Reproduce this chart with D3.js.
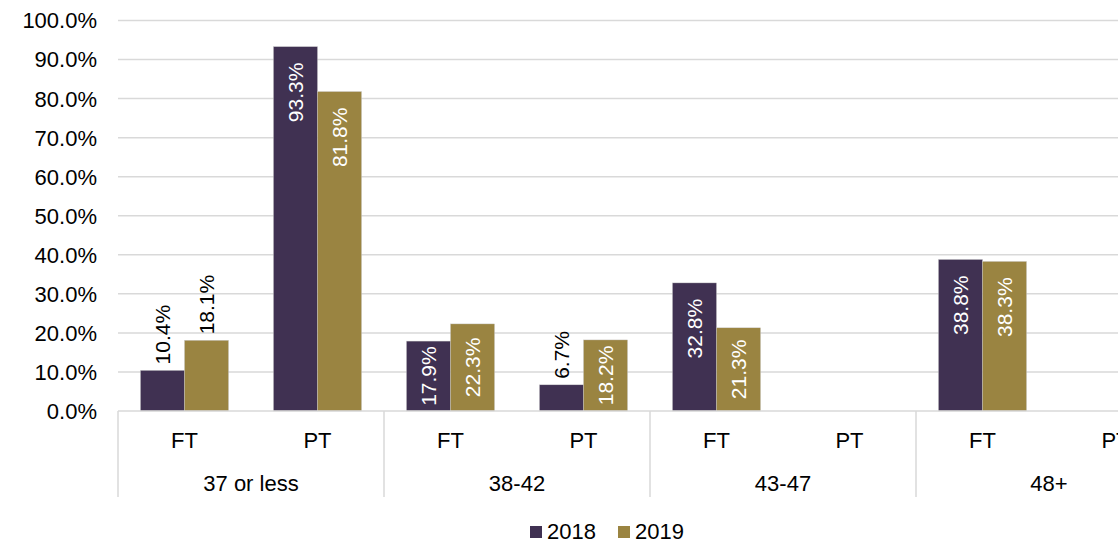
<!DOCTYPE html>
<html>
<head>
<meta charset="utf-8" />
<script src="https://cdn.jsdelivr.net/npm/d3@7"></script>
<style>
    body {
        margin: 0;
        background: #fff;
        overflow: hidden;
    }
    svg {
        display: block;
        font-family: "Liberation Sans", Arial, sans-serif;
    }
</style>
</head>
<body>
<div id="chartRoot"></div>
<script>
    const groups = ["37 or less", "38-42", "43-47", "48+"];
    const types = ["FT", "PT"];
    const seriesNames = ["2018", "2019"];
    // values per group/type, in %; null = no bar
    const values2018 = [10.4, 93.3, 17.9, 6.7, 32.8, null, 38.8, null];
    const values2019 = [18.1, 81.8, 22.3, 18.2, 21.3, null, 38.3, null];
    const yTicks = [0, 10, 20, 30, 40, 50, 60, 70, 80, 90, 100];
    // labels drawn above the bar instead of inside (series index, slot index)
    const outsideLabels = [[0, 0], [1, 0], [0, 3]];

    const colors = ["#403152", "#9a8441"];

    function drawChart() {
        const W = 1118, H = 542;
        const left = 118, top = 20.5, bottom = 411;
        const slotW = 133;
        const right = left + slotW * groups.length * types.length;

        const svg = d3.select("#chartRoot")
            .append("svg")
            .attr("width", W)
            .attr("height", H);

        const slots = [];
        groups.forEach(g => types.forEach(t => slots.push(g + "|" + t)));

        const x0 = d3.scaleBand().domain(slots).range([left, right]);
        const x1 = d3.scaleBand().domain(seriesNames)
            .range([0, x0.bandwidth()])
            .paddingInner(0)
            .paddingOuter(0.51);
        const y = d3.scaleLinear().domain([0, 100]).range([bottom, top]);

        // gridlines
        svg.append("g")
            .selectAll("line")
            .data(yTicks.filter(d => d > 0))
            .join("line")
            .attr("x1", left).attr("x2", right)
            .attr("y1", d => y(d)).attr("y2", d => y(d))
            .attr("stroke", "#d9d9d9")
            .attr("stroke-width", 1.5);

        // y labels
        svg.append("g")
            .selectAll("text")
            .data(yTicks)
            .join("text")
            .attr("x", 97)
            .attr("y", d => y(d))
            .attr("dy", "0.36em")
            .attr("text-anchor", "end")
            .attr("font-size", 22)
            .attr("fill", "#000")
            .text(d => d.toFixed(1) + "%");

        // bars
        const series = [values2018, values2019];
        const barData = [];
        series.forEach((vals, si) => {
            vals.forEach((v, i) => {
                if (v == null) return;
                barData.push({ si, i, v, slot: slots[i], name: seriesNames[si] });
            });
        });

        svg.append("g")
            .selectAll("rect")
            .data(barData)
            .join("rect")
            .attr("x", d => x0(d.slot) + x1(d.name))
            .attr("y", d => y(d.v))
            .attr("width", x1.bandwidth())
            .attr("height", d => y(0) - y(d.v))
            .attr("fill", d => colors[d.si])
            .attr("stroke", "#c8c8c8")
            .attr("stroke-width", 0.4);

        // category axis
        const axis = svg.append("g")
            .attr("stroke", "#d9d9d9")
            .attr("stroke-width", 1.5);
        axis.append("line")
            .attr("x1", left).attr("x2", right)
            .attr("y1", bottom).attr("y2", bottom);
        axis.selectAll(".sep")
            .data(d3.range(groups.length + 1))
            .join("line")
            .attr("class", "sep")
            .attr("x1", i => left + i * slotW * types.length)
            .attr("x2", i => left + i * slotW * types.length)
            .attr("y1", bottom).attr("y2", 497);

        svg.append("g")
            .selectAll("text")
            .data(slots)
            .join("text")
            .attr("x", d => x0(d) + x0.bandwidth() / 2)
            .attr("y", 448)
            .attr("text-anchor", "middle")
            .attr("font-size", 22)
            .text(d => d.split("|")[1]);

        svg.append("g")
            .selectAll("text")
            .data(groups)
            .join("text")
            .attr("x", d => x0(d + "|FT") + x0.bandwidth())
            .attr("y", 491)
            .attr("text-anchor", "middle")
            .attr("font-size", 22)
            .text(d => d);

        // data labels
        const isOutside = d => outsideLabels.some(o => o[0] === d.si && o[1] === d.i);
        const labels = svg.append("g")
            .selectAll("text")
            .data(barData)
            .join("text")
            .attr("font-size", 21)
            .attr("fill", d => isOutside(d) ? "#000" : "#fff")
            .attr("text-anchor", d => isOutside(d) ? "start" : "end")
            .attr("dy", "0.35em")
            .text(d => d.v.toFixed(1) + "%");

        labels.each(function (d) {
            const L = this.getComputedTextLength();
            const cx = x0(d.slot) + x1(d.name) + x1.bandwidth() / 2;
            const h = y(0) - y(d.v);
            let ty;
            if (isOutside(d)) {
                ty = y(d.v) - 6;
            } else {
                ty = y(d.v) + Math.min(16, Math.max(3, (h - L) / 2));
            }
            d3.select(this).attr("transform", `translate(${cx},${ty}) rotate(-90)`);
        });

        // legend
        const legend = svg.append("g");
        const legendX = [530, 618];
        seriesNames.forEach((n, i) => {
            legend.append("rect")
                .attr("x", legendX[i]).attr("y", 526)
                .attr("width", 12).attr("height", 12)
                .attr("fill", colors[i]);
            legend.append("text")
                .attr("x", legendX[i] + 17).attr("y", 539)
                .attr("font-size", 22)
                .text(n);
        });
    }

    drawChart();
</script>
</body>
</html>
